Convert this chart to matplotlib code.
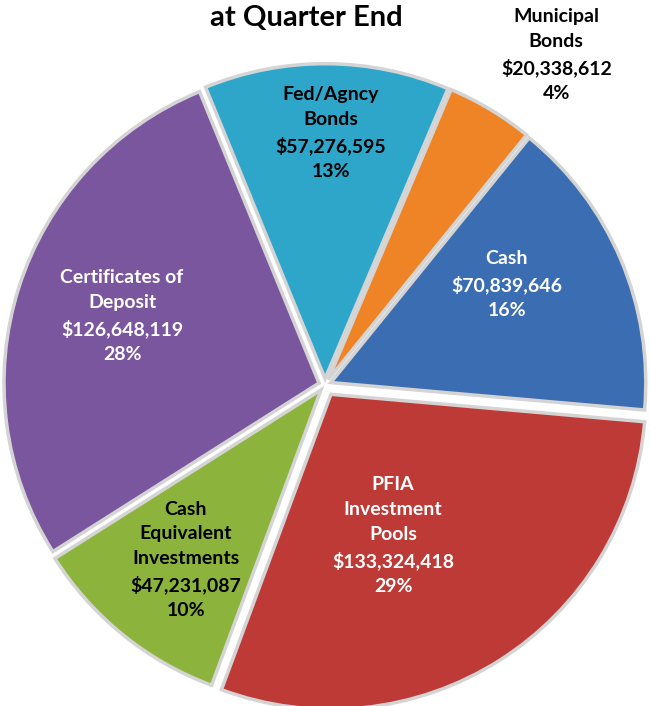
import numpy as np
import matplotlib
matplotlib.use("Agg")
import matplotlib.pyplot as plt

categories = ["Cash", "Municipal\nBonds", "Fed/Agncy\nBonds", "Certificates of\nDeposit",
              "Cash\nEquivalent\nInvestments", "PFIA\nInvestment\nPools"]
values = [70839646, 20338612, 57276595, 126648119, 47231087, 133324418]
pct_labels = ["16%", "4%", "13%", "28%", "10%", "29%"]
colors = ["#3B6DB3", "#EF8426", "#2EA6C9", "#7A569E", "#8CB43C", "#BE3A36"]
text_colors = ["white", "black", "black", "white", "black", "white"]
explode = [0.02, 0.02, 0.02, 0.02, 0.02, 0.035]
# label placement: (radius fraction, angle offset in degrees from wedge middle)
label_r = [0.64, 1.26, 0.78, 0.66, 0.69, 0.49]
label_dang = [6, -4, -1, -1, 0.5, -8]

plt.rcParams['font.family'] = ['Lato', 'DejaVu Sans']

fig = plt.figure(figsize=(6.5, 7.06), dpi=100)
ax = fig.add_axes([0, 0, 1, 1])

wedges, _ = ax.pie(values, colors=colors, explode=explode, startangle=-5,
                   counterclock=True, radius=1.0,
                   wedgeprops=dict(edgecolor="#D4D4D4", linewidth=2.5))

s = 315.0
ax.set_xlim(-325 / s, 325 / s)
ax.set_ylim(-321 / s, 385 / s)
ax.set_aspect('equal')
ax.axis('off')

for w, cat, v, p, tc, r, da, ex in zip(wedges, categories, values, pct_labels,
                                       text_colors, label_r, label_dang, explode):
    mid = np.deg2rad((w.theta1 + w.theta2) / 2 + da)
    x = (r + ex) * np.cos(mid)
    y = (r + ex) * np.sin(mid)
    ax.text(x, y, f"{cat}\n${v:,.0f}\n{p}", ha='center', va='center',
            color=tc, fontsize=14, fontweight='bold', linespacing=1.55)

fig.text(0.472, 0.975, "at Quarter End", ha='center', va='center',
         fontsize=21, fontweight='bold', color='black')

fig.savefig("out.png", dpi=100, facecolor='white')
